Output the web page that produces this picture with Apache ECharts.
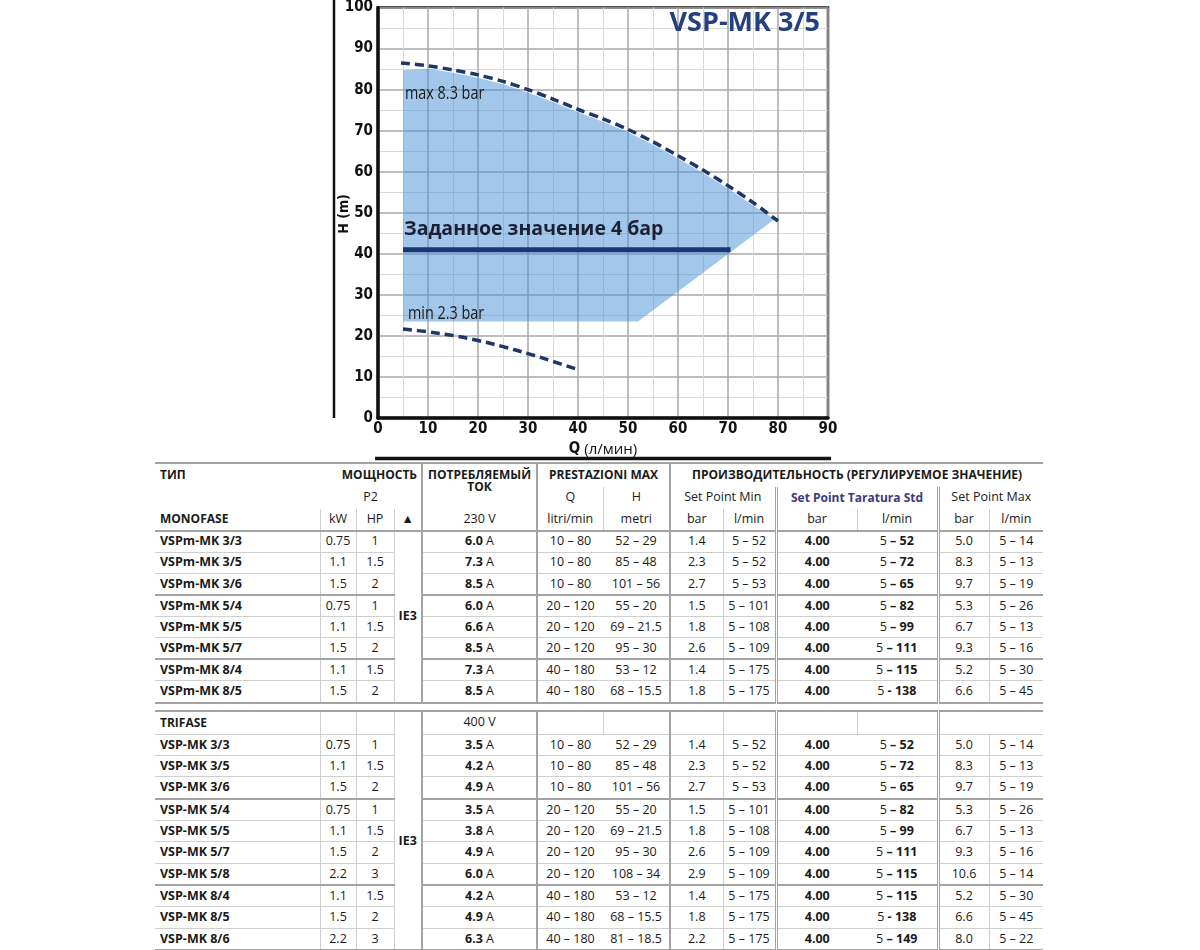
<!DOCTYPE html>
<html><head><meta charset="utf-8">
<script src="https://cdn.jsdelivr.net/npm/echarts@6/dist/echarts.min.js"></script>
<style>
html,body{margin:0;padding:0;background:#fff;width:1200px;height:950px;overflow:hidden;position:relative;}
#chart{position:absolute;left:0;top:0;width:1200px;height:462px;}
#tbl{position:absolute;left:155px;top:462px;border-collapse:collapse;table-layout:fixed;width:888px;
 font-family:'Open Sans','Noto Sans',sans-serif;font-size:12.5px;color:#1a1a1a;}
#tbl td{padding:0;text-align:center;white-space:nowrap;overflow:visible;line-height:1;vertical-align:middle;}
#tbl td.l{text-align:left;padding-left:5px;}
#tbl td.hb{font-weight:bold;font-size:12px;}
#tbl td.nb{font-weight:bold;}
</style></head>
<body>
<div id="chart"></div>
<table id="tbl"><colgroup></colgroup><tbody id="tb"></tbody></table>
<script>
// ---------- chart data ----------
const maxCurveQ = [4.6, 10, 15, 20, 25, 30, 35, 40, 45, 50, 55, 60, 65, 70, 75, 80];
const maxCurveH = [86.5, 85.8, 84.8, 83.6, 82.0, 80.0, 77.7, 75.2, 72.9, 70.3, 67.3, 63.9, 60.4, 56.6, 52.5, 48.0];
const minCurveQ = [5, 10, 15, 20, 25, 30, 35, 40];
const minCurveH = [21.7, 21.0, 20.1, 18.9, 17.4, 15.7, 13.8, 11.8];
const setPointQ = [5, 70.5];
const setPointH = [41, 41];
const fillQ = [5, 10, 15, 20, 25, 30, 35, 40, 45, 50, 55, 60, 65, 70, 75, 79.3, 52, 5];
const fillH = [84.7, 85.1, 84.1, 82.9, 81.3, 79.3, 77.0, 74.5, 72.2, 69.6, 66.6, 63.2, 59.7, 55.9, 51.8, 48.4, 23.5, 23.5];

// ---------- table data ----------
const monoNames = ['VSPm-MK 3/3','VSPm-MK 3/5','VSPm-MK 3/6','VSPm-MK 5/4','VSPm-MK 5/5','VSPm-MK 5/7','VSPm-MK 8/4','VSPm-MK 8/5'];
const monoKW = ['0.75','1.1','1.5','0.75','1.1','1.5','1.1','1.5'];
const monoHP = ['1','1.5','2','1','1.5','2','1.5','2'];
const monoAmp = ['6.0','7.3','8.5','6.0','6.6','8.5','7.3','8.5'];
const monoQ = ['10 – 80','10 – 80','10 – 80','20 – 120','20 – 120','20 – 120','40 – 180','40 – 180'];
const monoH = ['52 – 29','85 – 48','101 – 56','55 – 20','69 – 21.5','95 – 30','53 – 12','68 – 15.5'];
const monoMinBar = ['1.4','2.3','2.7','1.5','1.8','2.6','1.4','1.8'];
const monoMinQ = ['5 – 52','5 – 52','5 – 53','5 – 101','5 – 108','5 – 109','5 – 175','5 – 175'];
const monoStdBar = ['4.00','4.00','4.00','4.00','4.00','4.00','4.00','4.00'];
const monoStdQ = ['52','72','65','82','99','111','115','138'];
const monoStdSep = ['–','–','–','–','–','–','–','-'];
const monoMaxBar = ['5.0','8.3','9.7','5.3','6.7','9.3','5.2','6.6'];
const monoMaxQ = ['5 – 14','5 – 13','5 – 19','5 – 26','5 – 13','5 – 16','5 – 30','5 – 45'];
const monoGroupEnds = [2,5,7];

const triNames = ['VSP-MK 3/3','VSP-MK 3/5','VSP-MK 3/6','VSP-MK 5/4','VSP-MK 5/5','VSP-MK 5/7','VSP-MK 5/8','VSP-MK 8/4','VSP-MK 8/5','VSP-MK 8/6'];
const triKW = ['0.75','1.1','1.5','0.75','1.1','1.5','2.2','1.1','1.5','2.2'];
const triHP = ['1','1.5','2','1','1.5','2','3','1.5','2','3'];
const triAmp = ['3.5','4.2','4.9','3.5','3.8','4.9','6.0','4.2','4.9','6.3'];
const triQ = ['10 – 80','10 – 80','10 – 80','20 – 120','20 – 120','20 – 120','20 – 120','40 – 180','40 – 180','40 – 180'];
const triH = ['52 – 29','85 – 48','101 – 56','55 – 20','69 – 21.5','95 – 30','108 – 34','53 – 12','68 – 15.5','81 – 18.5'];
const triMinBar = ['1.4','2.3','2.7','1.5','1.8','2.6','2.9','1.4','1.8','2.2'];
const triMinQ = ['5 – 52','5 – 52','5 – 53','5 – 101','5 – 108','5 – 109','5 – 109','5 – 175','5 – 175','5 – 175'];
const triStdBar = ['4.00','4.00','4.00','4.00','4.00','4.00','4.00','4.00','4.00','4.00'];
const triStdQ = ['52','72','65','82','99','111','115','115','138','149'];
const triStdSep = ['–','–','–','–','–','–','–','–','-','–'];
const triMaxBar = ['5.0','8.3','9.7','5.3','6.7','9.3','10.6','5.2','6.6','8.0'];
const triMaxQ = ['5 – 14','5 – 13','5 – 19','5 – 26','5 – 13','5 – 16','5 – 14','5 – 30','5 – 45','5 – 22'];
const triGroupEnds = [2,6,9];

// ---------- chart ----------
const chart = echarts.init(document.getElementById('chart'), null, {renderer:'canvas'});
const NARROW = "'DejaVu Sans Condensed','DejaVu Sans',sans-serif";
const zip = (a,b)=>a.map((v,i)=>[v,b[i]]);
const fillPts = zip(fillQ, fillH);

chart.setOption({
  animation:false,
  grid:{left:378, top:5, width:450, height:415, show:true, borderColor:'#1a1a1a', borderWidth:2.5, backgroundColor:'transparent'},
  xAxis:{type:'value', min:0, max:90, interval:10,
    name:'{b|Q} (л/мин)', nameLocation:'middle', nameGap:20,
    nameTextStyle:{fontFamily:"'Open Sans',sans-serif", fontSize:15, color:'#111', rich:{b:{fontFamily:NARROW, fontSize:15, fontWeight:'bold', color:'#111'}}},
    axisLine:{lineStyle:{color:'#111', width:3.5}}, axisTick:{show:false},
    axisLabel:{fontFamily:NARROW, fontWeight:'bold', fontSize:15, color:'#111', margin:4},
    splitLine:{lineStyle:{color:'#a9a9a9', width:1.5}},
    minorTick:{show:false, splitNumber:2}, minorSplitLine:{show:true, lineStyle:{color:'#d9d9d9', width:1}}},
  yAxis:{type:'value', min:0, max:100, interval:10,
    axisLine:{lineStyle:{color:'#111', width:3.5}}, axisTick:{show:false},
    axisLabel:{fontFamily:NARROW, fontWeight:'bold', fontSize:15, color:'#111', margin:5},
    splitLine:{lineStyle:{color:'#a9a9a9', width:1.5}},
    minorTick:{show:false, splitNumber:2}, minorSplitLine:{show:true, lineStyle:{color:'#d9d9d9', width:1}}},
  series:[
    {type:'custom', name:'area', data:fillPts, z:1, silent:true,
     renderItem:function(params, api){
       if(params.dataIndex!==0) return null;
       const pts = fillPts.map(p=>api.coord(p));
       return {type:'polygon', shape:{points:pts}, style:{fill:'rgba(72,143,214,0.5)', stroke:null}};
     }},
    {type:'line', name:'max', data:zip(maxCurveQ,maxCurveH), smooth:0.3, showSymbol:false, z:3,
     lineStyle:{color:'#1f3768', width:3.5, type:[9,5], cap:'butt'}},
    {type:'line', name:'min', data:zip(minCurveQ,minCurveH), smooth:0.4, showSymbol:false, z:3,
     lineStyle:{color:'#1f3768', width:3.5, type:[9,5], cap:'butt'}},
    {type:'line', name:'setpoint', data:zip(setPointQ,setPointH), showSymbol:false, z:4,
     lineStyle:{color:'#1d3472', width:5}}
  ],
  graphic:[
    {type:'text', x:820, y:23, z:10, style:{text:'VSP-MK 3/5', fill:'#23407f', font:"bold 27px 'Open Sans',sans-serif", textAlign:'right', textVerticalAlign:'middle'}},
    {type:'text', x:344, y:214, z:10, rotation:Math.PI/2, style:{text:'H (m)', fill:'#111', font:"bold 14px "+NARROW, textAlign:'center', textVerticalAlign:'middle'}},
    {type:'text', x:405, y:94, z:10, scaleX:0.8, originX:0, style:{text:'max 8.3 bar', fill:'#1a1a1a', font:"18px 'Open Sans',sans-serif", textVerticalAlign:'middle'}},
    {type:'text', x:408, y:314, z:10, scaleX:0.8, originX:0, style:{text:'min 2.3 bar', fill:'#1a1a1a', font:"18px 'Open Sans',sans-serif", textVerticalAlign:'middle'}},
    {type:'text', x:404, y:229, z:10, style:{text:'Заданное значение 4 бар', fill:'#1b2236', font:"bold 19.5px 'Open Sans',sans-serif", textVerticalAlign:'middle'}},
    {type:'line', z:10, shape:{x1:334, y1:0, x2:334, y2:418}, style:{stroke:'#111', lineWidth:2.5}},
    {type:'line', z:10, shape:{x1:375, y1:458.5, x2:831, y2:458.5}, style:{stroke:'#111', lineWidth:3.5}}
  ]
});

// ---------- table ----------
const colW = [165,36,38,28,115,66,67,53,53,81,81,51,54];
const cg = document.querySelector('#tbl colgroup');
colW.forEach(w=>{const c=document.createElement('col'); c.style.width=w+'px'; cg.appendChild(c);});
const tb = document.getElementById('tb');
const LIGHT='1px solid #cfcfcf', DARK='2px solid #a3a3a3', DBL='3px double #a3a3a3';

function td(html, opt){
  opt = opt||{};
  const c = document.createElement('td');
  c.innerHTML = html;
  if(opt.cls) c.className = opt.cls;
  if(opt.cs) c.colSpan = opt.cs;
  if(opt.rs) c.rowSpan = opt.rs;
  const s = c.style;
  s.borderLeft = opt.bl || 'none';
  s.borderBottom = opt.bb || 'none';
  s.borderTop = opt.bt || 'none';
  if(opt.align) s.textAlign = opt.align;
  if(opt.va) s.verticalAlign = opt.va;
  if(opt.color) s.color = opt.color;
  if(opt.pr) s.paddingRight = opt.pr;
  if(opt.pt) s.paddingTop = opt.pt;
  return c;
}
function row(h, cells){
  const r = document.createElement('tr');
  cells.forEach(c=>r.appendChild(c));
  if(h) cells.forEach(c=>{ if(c.rowSpan===1) c.style.height=h+'px'; });
  tb.appendChild(r);
  return r;
}
// header
row(22.5, [
  td('ТИП',{cls:'l hb', bt:DARK}),
  td('МОЩНОСТЬ',{cls:'hb', cs:3, align:'right', pr:'4px', bt:DARK}),
  td('ПОТРЕБЛЯЕМЫЙ<br>ТОК',{cls:'hb', rs:2, bl:DARK, bt:DARK, va:'top', pt:'5px'}),
  td('PRESTAZIONI MAX',{cls:'hb', cs:2, bl:DARK, bt:DARK}),
  td('ПРОИЗВОДИТЕЛЬНОСТЬ (РЕГУЛИРУЕМОЕ ЗНАЧЕНИЕ)',{cls:'hb', cs:6, bl:DARK, bt:DARK})
]);
row(22, [
  td(''), td('P2',{cs:3}),
  td('Q',{bl:DARK}), td('H',{bl:LIGHT}),
  td('Set Point Min',{cs:2, bl:DARK}),
  td('Set Point Taratura Std',{cs:2, bl:DBL, cls:'hb', color:'#3b3b7e'}),
  td('Set Point Max',{cs:2, bl:DBL})
]);
row(21, [
  td('MONOFASE',{cls:'l hb', bb:DARK}), td('kW',{bl:LIGHT,bb:DARK}), td('HP',{bl:LIGHT,bb:DARK}), td('▲',{bl:LIGHT,bb:DARK}),
  td('230 V',{bl:DARK,bb:DARK}), td('litri/min',{bl:DARK,bb:DARK}), td('metri',{bl:LIGHT,bb:DARK}),
  td('bar',{bl:DARK,bb:DARK}), td('l/min',{bl:LIGHT,bb:DARK}),
  td('bar',{bl:DBL,bb:DARK}), td('l/min',{bl:LIGHT,bb:DARK}),
  td('bar',{bl:DBL,bb:DARK}), td('l/min',{bl:LIGHT,bb:DARK})
]);

function bodyRows(names,kw,hp,amp,q,h,minBar,minQ,stdBar,stdQ,stdSep,maxBar,maxQ,ends,hgt){
  names.forEach((n,i)=>{
    const bb = ends.includes(i) ? DARK : LIGHT;
    const cells = [
      td(n,{cls:'l nb', bb:bb}),
      td(kw[i],{bl:LIGHT,bb:bb}), td(hp[i],{bl:LIGHT,bb:bb})
    ];
    if(i===0) cells.push(td('<b>IE3</b>',{rs:names.length, bl:LIGHT, bb:DARK}));
    cells.push(
      td('<b>'+amp[i]+'</b> A',{bl:DARK,bb:bb}),
      td(q[i],{bl:DARK,bb:bb}), td(h[i],{bb:bb}),
      td(minBar[i],{bl:DARK,bb:bb}), td(minQ[i],{bl:LIGHT,bb:bb}),
      td('<b>'+stdBar[i]+'</b>',{bl:DBL,bb:bb}), td('5 <b>'+stdSep[i]+' '+stdQ[i]+'</b>',{bb:bb}),
      td(maxBar[i],{bl:DBL,bb:bb}), td(maxQ[i],{bl:LIGHT,bb:bb})
    );
    row(hgt, cells);
  });
}
bodyRows(monoNames,monoKW,monoHP,monoAmp,monoQ,monoH,monoMinBar,monoMinQ,monoStdBar,monoStdQ,monoStdSep,monoMaxBar,monoMaxQ,monoGroupEnds,20.15);
// spacer
row(6, [td('',{cs:13, bb:DARK})]);
row(22, [
  td('TRIFASE',{cls:'l hb', bb:LIGHT}), td('',{bl:LIGHT,bb:LIGHT}), td('',{bl:LIGHT,bb:LIGHT}), td('',{bl:LIGHT}),
  td('400 V',{bl:DARK,bb:LIGHT}), td('',{bl:DARK,bb:LIGHT}), td('',{bl:LIGHT,bb:LIGHT}),
  td('',{bl:DARK,bb:LIGHT}), td('',{bl:LIGHT,bb:LIGHT}),
  td('',{bl:DBL,bb:LIGHT}), td('',{bl:LIGHT,bb:LIGHT}),
  td('',{bl:DBL,bb:LIGHT}), td('',{bb:LIGHT})
]);
bodyRows(triNames,triKW,triHP,triAmp,triQ,triH,triMinBar,triMinQ,triStdBar,triStdQ,triStdSep,triMaxBar,triMaxQ,triGroupEnds,20.35);
</script>
</body></html>
